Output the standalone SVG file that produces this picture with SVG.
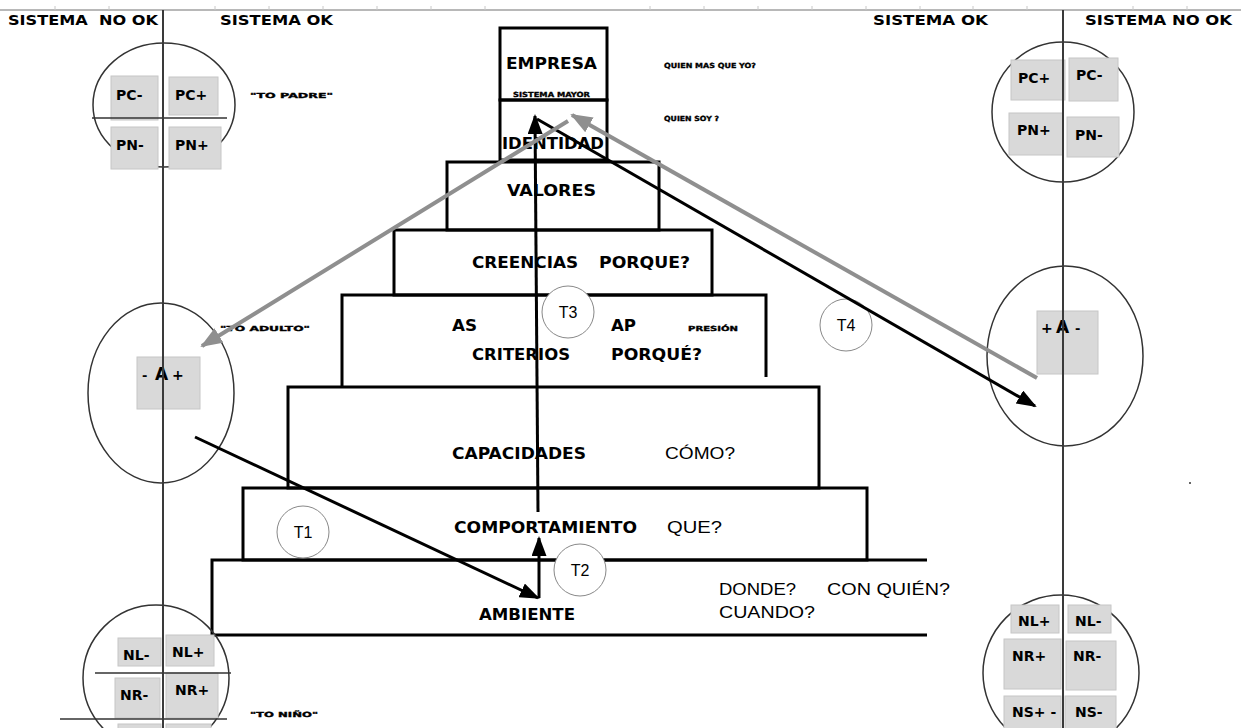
<svg xmlns="http://www.w3.org/2000/svg" width="1241" height="728" viewBox="0 0 1241 728">
  <style>
    .hdr { font-family: "DejaVu Sans", "Liberation Sans", sans-serif; font-weight: bold; font-size: 14px; fill: #000; }
    .lvl { font-family: "DejaVu Sans", "Liberation Sans", sans-serif; font-weight: bold; font-size: 16px; fill: #000; }
    .reg { font-family: "Liberation Sans", Arial, sans-serif; font-size: 16px; fill: #000; }
    .tiny { font-family: "DejaVu Sans", sans-serif; font-weight: bold; font-size: 7px; fill: #000; stroke: #000; stroke-width: 0.35; }
    .box { fill: #d9d9d9; stroke: #c6c6c6; stroke-width: 1; }
    .blab { font-family: "DejaVu Sans", "Liberation Sans", sans-serif; font-weight: bold; font-size: 14px; fill: #000; }
    .ring { fill: none; stroke: #333; stroke-width: 1.5; }
    .tier { fill: none; stroke: #000; stroke-width: 3; }
    .tag { fill: #fff; stroke: #888; stroke-width: 1; }
    .div { stroke: #333; stroke-width: 1.5; }
    .axis { stroke: #3a3a3a; stroke-width: 2; }
    .dark { stroke: #000; stroke-width: 3; fill: none; marker-end: url(#headDark); }
    .grey { stroke: #8f8f8f; stroke-width: 4; fill: none; marker-end: url(#headGrey); }
  </style>
  <defs>
    <marker id="headDark" markerUnits="userSpaceOnUse" markerWidth="20" markerHeight="15" viewBox="0 0 20 15" refX="18" refY="7.5" orient="auto">
      <path d="M0,0 L20,7.5 L0,15 Z" fill="#000"/>
    </marker>
    <marker id="headGrey" markerUnits="userSpaceOnUse" markerWidth="22" markerHeight="17" viewBox="0 0 22 17" refX="20" refY="8.5" orient="auto">
      <path d="M0,0 L22,8.5 L0,17 Z" fill="#8f8f8f"/>
    </marker>
  </defs>

  <rect width="1241" height="728" fill="#fff"/>

  <!-- top rule with faint ticks -->
  <g id="top-rule">
    <line x1="0" y1="10" x2="1241" y2="10" stroke="#a0a0a0" stroke-width="1.5"/>
    <g stroke="#c8c8c8" stroke-width="1">
      <line x1="55" y1="6" x2="55" y2="10"/><line x1="109" y1="6" x2="109" y2="10"/>
      <line x1="215" y1="6" x2="215" y2="10"/><line x1="269" y1="6" x2="269" y2="10"/>
      <line x1="323" y1="6" x2="323" y2="10"/><line x1="377" y1="6" x2="377" y2="10"/>
      <line x1="431" y1="6" x2="431" y2="10"/><line x1="485" y1="6" x2="485" y2="10"/>
      <line x1="650" y1="6" x2="650" y2="10"/><line x1="704" y1="6" x2="704" y2="10"/>
      <line x1="758" y1="6" x2="758" y2="10"/><line x1="812" y1="6" x2="812" y2="10"/>
      <line x1="866" y1="6" x2="866" y2="10"/><line x1="920" y1="6" x2="920" y2="10"/>
      <line x1="973" y1="6" x2="973" y2="10"/><line x1="1027" y1="6" x2="1027" y2="10"/>
      <line x1="1133" y1="6" x2="1133" y2="10"/><line x1="1187" y1="6" x2="1187" y2="10"/>
    </g>
  </g>

  <!-- column headers -->
  <g id="headers">
    <text class="hdr" x="8" y="25" textLength="150" lengthAdjust="spacingAndGlyphs">SISTEMA&#160; NO OK</text>
    <text class="hdr" x="220" y="25" textLength="113" lengthAdjust="spacingAndGlyphs">SISTEMA OK</text>
    <text class="hdr" x="873" y="25" textLength="115" lengthAdjust="spacingAndGlyphs">SISTEMA OK</text>
    <text class="hdr" x="1085" y="25" textLength="147" lengthAdjust="spacingAndGlyphs">SISTEMA NO OK</text>
  </g>

  <!-- logical levels pyramid -->
  <g id="level-empresa">
    <rect class="tier" x="500" y="28" width="107" height="72"/>
    <text class="lvl" x="506" y="69" textLength="91" lengthAdjust="spacingAndGlyphs">EMPRESA</text>
    <text class="tiny" x="513" y="97" font-size="6" textLength="77" lengthAdjust="spacingAndGlyphs">SISTEMA MAYOR</text>
  </g>
  <g id="level-identidad">
    <rect class="tier" x="500" y="100" width="107" height="60"/>
    <text class="lvl" x="502" y="149" font-size="19" textLength="102" lengthAdjust="spacingAndGlyphs">IDENTIDAD</text>
  </g>
  <g id="level-valores">
    <rect class="tier" x="447" y="162" width="212" height="68"/>
    <text class="lvl" x="507" y="196" textLength="89" lengthAdjust="spacingAndGlyphs">VALORES</text>
  </g>
  <g id="level-creencias">
    <rect class="tier" x="394" y="230" width="318" height="65"/>
    <text class="lvl" x="472" y="268" textLength="106" lengthAdjust="spacingAndGlyphs">CREENCIAS</text>
    <text class="lvl" x="599" y="268" textLength="91" lengthAdjust="spacingAndGlyphs">PORQUE?</text>
  </g>
  <g id="level-criterios">
    <path class="tier" d="M342,387 V295 H766 V377"/>
    <text class="lvl" x="452" y="331" textLength="25" lengthAdjust="spacingAndGlyphs">AS</text>
    <text class="lvl" x="611" y="331" textLength="25" lengthAdjust="spacingAndGlyphs">AP</text>
    <text class="tiny" x="688" y="331" font-size="6" textLength="50" lengthAdjust="spacingAndGlyphs">PRESIÓN</text>
    <text class="lvl" x="472" y="360" textLength="98" lengthAdjust="spacingAndGlyphs">CRITERIOS</text>
    <text class="lvl" x="611" y="360" textLength="91" lengthAdjust="spacingAndGlyphs">PORQUÉ?</text>
  </g>
  <g id="level-capacidades">
    <rect class="tier" x="288" y="387" width="531" height="101"/>
    <text class="lvl" x="452" y="459" textLength="134" lengthAdjust="spacingAndGlyphs">CAPACIDADES</text>
    <text class="reg" x="665" y="459" textLength="70" lengthAdjust="spacingAndGlyphs">CÓMO?</text>
  </g>
  <g id="level-comportamiento">
    <rect class="tier" x="243" y="488" width="624" height="72"/>
    <text class="lvl" x="454" y="533" textLength="183" lengthAdjust="spacingAndGlyphs">COMPORTAMIENTO</text>
    <text class="reg" x="667" y="533" textLength="55" lengthAdjust="spacingAndGlyphs">QUE?</text>
  </g>
  <g id="level-ambiente">
    <path class="tier" d="M927,560 H212 V635 H927"/>
    <text class="lvl" x="479" y="620" textLength="96" lengthAdjust="spacingAndGlyphs">AMBIENTE</text>
    <text class="reg" x="719" y="595" textLength="77" lengthAdjust="spacingAndGlyphs">DONDE?</text>
    <text class="reg" x="827" y="595" textLength="123" lengthAdjust="spacingAndGlyphs">CON QUIÉN?</text>
    <text class="reg" x="719" y="618" textLength="96" lengthAdjust="spacingAndGlyphs">CUANDO?</text>
  </g>

  <!-- side questions -->
  <g id="questions">
    <text class="tiny" x="664" y="68" font-size="6" textLength="92" lengthAdjust="spacingAndGlyphs">QUIEN MAS QUE YO?</text>
    <text class="tiny" x="664" y="121" font-size="6" textLength="55" lengthAdjust="spacingAndGlyphs">QUIEN SOY ?</text>
  </g>

  <!-- ego-state circles, left side -->
  <g id="padre-izq">
    <ellipse class="ring" cx="164" cy="105" rx="71" ry="62"/>
    <rect class="box" x="111" y="76" width="47" height="44"/>
    <rect class="box" x="169" y="77" width="49" height="38"/>
    <rect class="box" x="111" y="127" width="47" height="42"/>
    <rect class="box" x="169" y="127" width="52" height="42"/>
    <line class="div" x1="92" y1="118" x2="227" y2="118"/>
    <text class="blab" x="116" y="100">PC-</text>
    <text class="blab" x="175" y="100">PC+</text>
    <text class="blab" x="116" y="150">PN-</text>
    <text class="blab" x="175" y="150">PN+</text>
    <text class="tiny" x="250" y="98" textLength="83" lengthAdjust="spacingAndGlyphs">"TO PADRE"</text>
  </g>
  <g id="adulto-izq">
    <ellipse class="ring" cx="161" cy="393" rx="73" ry="90"/>
    <rect class="box" x="137" y="357" width="63" height="52"/>
    <text class="blab" y="380"><tspan x="142" font-size="13">-</tspan><tspan x="155" font-size="17">A</tspan><tspan x="172" font-size="14">+</tspan></text>
    <text class="tiny" x="220" y="331" textLength="90" lengthAdjust="spacingAndGlyphs">"TO ADULTO"</text>
  </g>
  <g id="nino-izq">
    <ellipse class="ring" cx="156" cy="678" rx="73" ry="73"/>
    <rect class="box" x="118" y="638" width="43" height="28"/>
    <rect class="box" x="166" y="635" width="48" height="31"/>
    <rect class="box" x="115" y="678" width="45" height="40"/>
    <rect class="box" x="166" y="673" width="52" height="45"/>
    <rect class="box" x="118" y="724" width="43" height="10"/>
    <rect class="box" x="166" y="724" width="45" height="10"/>
    <line class="div" x1="95" y1="673" x2="231" y2="673"/>
    <line class="div" x1="60" y1="719" x2="227" y2="719"/>
    <text class="blab" x="123" y="660">NL-</text>
    <text class="blab" x="172" y="657">NL+</text>
    <text class="blab" x="120" y="700">NR-</text>
    <text class="blab" x="175" y="695">NR+</text>
    <text class="tiny" x="250" y="717" textLength="68" lengthAdjust="spacingAndGlyphs">"TO NIÑO"</text>
  </g>

  <!-- ego-state circles, right side -->
  <g id="padre-der">
    <ellipse class="ring" cx="1063" cy="112" rx="71" ry="70"/>
    <rect class="box" x="1011" y="60" width="54" height="40"/>
    <rect class="box" x="1069" y="58" width="49" height="43"/>
    <rect class="box" x="1009" y="113" width="54" height="42"/>
    <rect class="box" x="1067" y="117" width="52" height="40"/>
    <text class="blab" x="1018" y="83">PC+</text>
    <text class="blab" x="1076" y="80">PC-</text>
    <text class="blab" x="1017" y="135">PN+</text>
    <text class="blab" x="1075" y="140">PN-</text>
  </g>
  <g id="adulto-der">
    <ellipse class="ring" cx="1065" cy="356" rx="78" ry="90"/>
    <rect class="box" x="1037" y="311" width="61" height="63"/>
    <text class="blab" y="333"><tspan x="1041" font-size="14">+</tspan><tspan x="1056" font-size="17">A</tspan><tspan x="1075" font-size="13">-</tspan></text>
  </g>
  <g id="nino-der">
    <ellipse class="ring" cx="1061" cy="673" rx="78" ry="78"/>
    <rect class="box" x="1011" y="605" width="48" height="28"/>
    <rect class="box" x="1068" y="605" width="43" height="28"/>
    <rect class="box" x="1004" y="639" width="57" height="50"/>
    <rect class="box" x="1066" y="641" width="50" height="49"/>
    <rect class="box" x="1004" y="696" width="57" height="40"/>
    <rect class="box" x="1065" y="696" width="51" height="40"/>
    <text class="blab" x="1018" y="626">NL+</text>
    <text class="blab" x="1075" y="626">NL-</text>
    <text class="blab" x="1012" y="661">NR+</text>
    <text class="blab" x="1073" y="661">NR-</text>
    <text class="blab" x="1012" y="717">NS+ -</text>
    <text class="blab" x="1075" y="717">NS-</text>
  </g>

  <!-- OK / NO OK dividing axes -->
  <g id="axes">
    <line class="axis" x1="163" y1="10" x2="163" y2="728"/>
    <line class="axis" x1="1063" y1="10" x2="1063" y2="728"/>
  </g>

  <circle cx="1190" cy="483" r="1" fill="#333"/>

  <!-- transition markers -->
  <g id="tag-t1"><circle class="tag" cx="303" cy="532" r="26"/><text class="reg" x="303" y="538" text-anchor="middle">T1</text></g>
  <g id="tag-t2"><circle class="tag" cx="580" cy="570" r="26"/><text class="reg" x="580" y="576" text-anchor="middle">T2</text></g>
  <g id="tag-t3"><circle class="tag" cx="568" cy="312" r="26"/><text class="reg" x="568" y="318" text-anchor="middle">T3</text></g>
  <g id="tag-t4"><circle class="tag" cx="846" cy="325" r="26"/><text class="reg" x="846" y="331" text-anchor="middle">T4</text></g>

  <!-- connectors -->
  <g id="connectors">
    <line class="dark" x1="195" y1="437" x2="538" y2="598"/>
    <line class="dark" x1="539" y1="598" x2="539" y2="538"/>
    <line class="dark" x1="538" y1="512" x2="535" y2="116"/>
    <line class="dark" x1="537" y1="119" x2="1035" y2="406"/>
    <line class="grey" x1="1037" y1="378" x2="572" y2="115"/>
    <line class="grey" x1="568" y1="121" x2="202" y2="346"/>
  </g>
</svg>
